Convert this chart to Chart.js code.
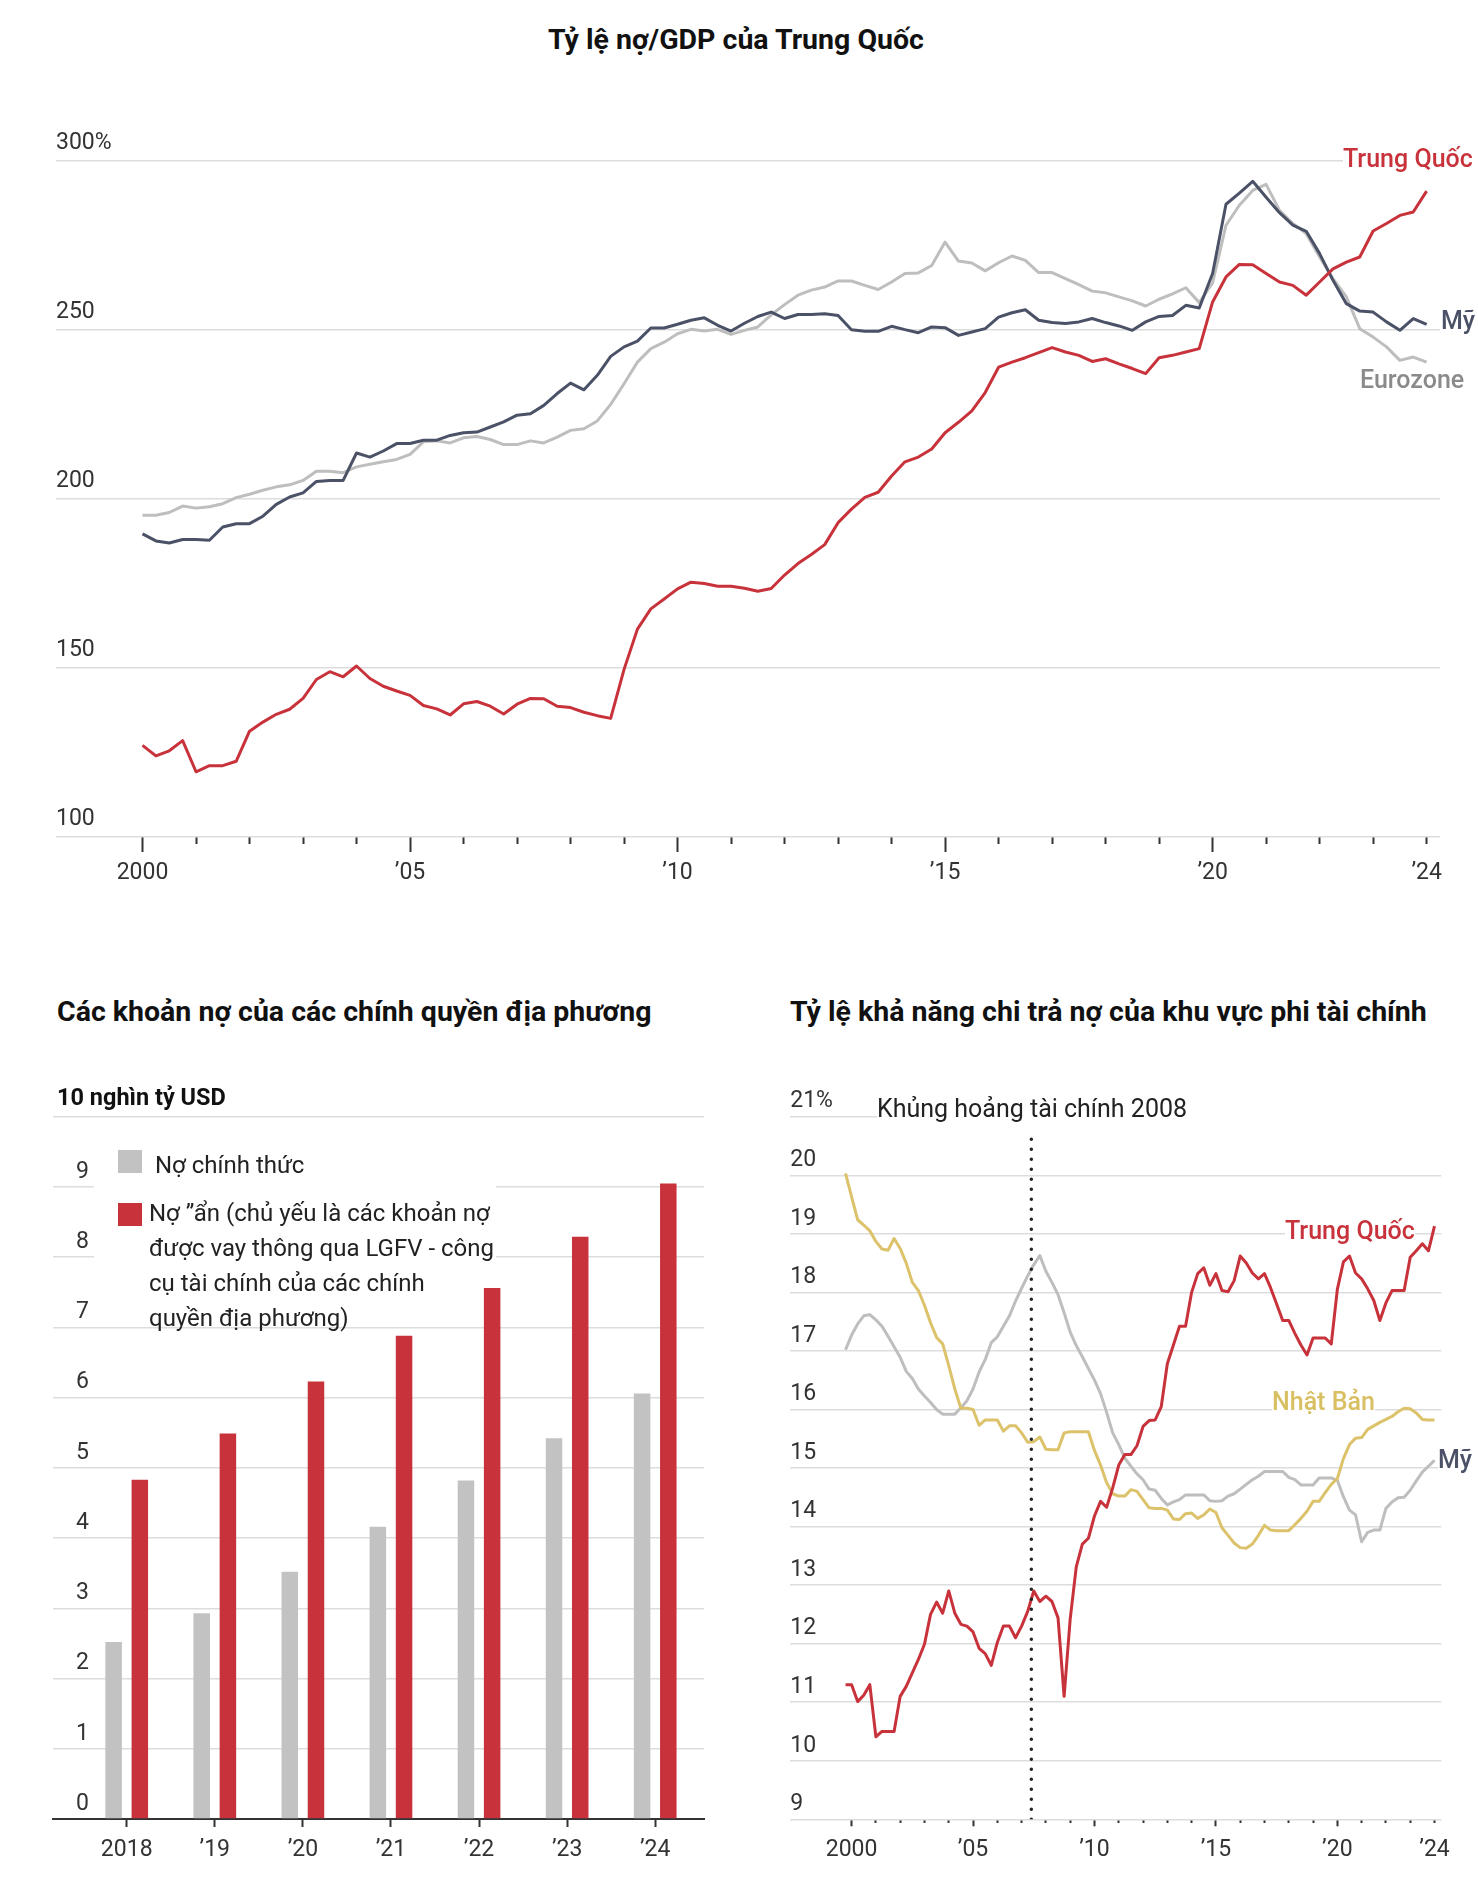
<!DOCTYPE html>
<html lang="vi">
<head>
<meta charset="utf-8">
<title>Tỷ lệ nợ/GDP của Trung Quốc</title>
<script src="https://cdn.jsdelivr.net/npm/chart.js@4.4.1/dist/chart.umd.min.js"></script>
<style>
  html, body { margin: 0; padding: 0; background: #fff; }
  body { width: 1478px; height: 1884px; position: relative; overflow: hidden; font-family: Roboto, "Noto Sans", sans-serif; color: #222; }
  canvas { position: absolute; }
  .t { position: absolute; white-space: nowrap; line-height: 1; }
  .title { font-weight: 700; font-size: 28.5px; color: #111; }
  .lbl { font-weight: 500; font-size: 25px; background: #fff; }
  .sw { position: absolute; width: 24px; height: 23px; }
</style>
</head>
<body>
<div class="t title" style="left:0;width:1472px;text-align:center;top:26px">Tỷ lệ nợ/GDP của Trung Quốc</div>
<canvas id="gdp" width="1478" height="797" style="left:0;top:100px"></canvas>
<div class="t lbl" style="left:1343px;top:146px;color:#c8323b">Trung Quốc</div>
<div class="t lbl" style="left:1441px;top:308px;color:#4b5166">Mỹ</div>
<div class="t lbl" style="left:1360px;top:367px;color:#8a8a8a">Eurozone</div>

<div class="t title" style="left:57px;top:998px">Các khoản nợ của các chính quyền địa phương</div>
<div class="t title" style="left:790px;top:998px">Tỷ lệ khả năng chi trả nợ của khu vực phi tài chính</div>

<canvas id="bars" width="740" height="824" style="left:0;top:1060px"></canvas>
<div class="t" style="left:57px;top:1086px;font-size:23.5px;font-weight:700;color:#111">10 nghìn tỷ USD</div>
<div style="position:absolute;left:94px;top:1140px;width:402px;height:128px;background:#fff"></div>
<div class="sw" style="left:118px;top:1150px;background:#c2c2c2"></div>
<div class="t" style="left:155px;top:1153px;font-size:24px">Nợ chính thức</div>
<div class="sw" style="left:118px;top:1203px;background:#c8323b"></div>
<div class="t" style="left:149px;top:1196px;font-size:24px;line-height:35px">Nợ ”ẩn (chủ yếu là các khoản nợ<br>được vay thông qua LGFV - công<br>cụ tài chính của các chính<br>quyền địa phương)</div>

<canvas id="dsc" width="738" height="824" style="left:740px;top:1060px"></canvas>
<div class="t" style="left:877px;top:1096px;width:568px;font-size:25px;background:#fff">Khủng hoảng tài chính 2008</div>
<div class="t lbl" style="left:1285px;top:1218px;color:#c8323b">Trung Quốc</div>
<div class="t lbl" style="left:1272px;top:1389px;color:#d8bf62">Nhật Bản</div>
<div class="t lbl" style="left:1438px;top:1447px;color:#4b5166">Mỹ</div>

<script>
// ---- data: debt / GDP, quarterly from 2000 Q1 ----
const gdpStart = 2000;
const gdpChina = [127.1,124,125.5,128.5,119.3,121.1,121.1,122.4,131.3,134,
  136.3,137.8,141,146.6,148.9,147.4,150.6,146.9,144.6,143.2,
  141.9,138.9,137.9,136.1,139.4,140.1,138.7,136.4,139.3,141,
  140.9,138.7,138.3,136.9,135.9,135.1,149.6,161.5,167.5,170.4,
  173.4,175.4,175,174.2,174.2,173.6,172.7,173.5,177.5,180.9,
  183.6,186.5,193,197,200.5,202,206.8,211,212.4,214.8,
  219.6,222.7,226.1,231.5,239,240.5,241.8,243.3,244.8,243.5,
  242.5,240.7,241.5,240,238.6,237.1,241.8,242.5,243.5,244.5,
  258.3,265.7,269.4,269.3,266.7,264.2,263.2,260.3,264.2,268.1,
  270.1,271.6,279.3,281.5,283.9,284.9,291.1];
const gdpUS = [189.7,187.6,187,188,188,187.8,191.7,192.7,192.7,194.9,
  198.4,200.6,201.8,205.2,205.5,205.5,213.6,212.4,214.2,216.4,
  216.4,217.4,217.4,218.8,219.6,219.8,221.3,222.8,224.8,225.2,
  227.7,231.2,234.3,232.3,236.6,242.2,245,246.7,250.6,250.6,
  251.7,252.9,253.6,251.4,249.7,252,254,255.3,253.4,254.6,
  254.6,254.8,254.3,250.1,249.6,249.6,251.1,250.1,249.2,250.9,
  250.7,248.4,249.4,250.4,253.8,255.1,256,252.9,252.2,251.9,
  252.4,253.4,252.2,251.2,249.9,252.4,254,254.3,257.3,256.5,
  266.7,287.2,290.5,294,289.3,284.7,281,279.2,272.6,264.7,
  257.8,255.6,255.3,252.4,249.9,253.4,251.7];
const gdpEuro = [195.2,195.2,196,197.9,197.3,197.7,198.6,200.4,201.4,202.6,
  203.6,204.2,205.5,208.2,208.2,207.8,209.5,210.3,211,211.7,
  213.2,216.9,217.2,216.6,218.1,218.5,217.6,216.1,216.1,217.2,
  216.6,218.3,220.3,220.8,223.1,228,234.1,240.5,244.5,246.4,
  248.9,250.2,249.7,250.2,248.7,249.9,250.9,254.5,257.5,260.3,
  261.8,262.7,264.5,264.5,263.2,262,264.2,266.7,266.9,269.1,
  276,270.4,269.8,267.5,269.9,271.9,270.6,267,267,265.2,
  263.4,261.5,261,259.8,258.6,257.1,259.1,260.7,262.5,258.1,
  263.9,281,286.9,291.3,293.1,285.4,281.5,278.5,271.6,265.2,
  259.8,250.4,247.9,245,241,242,240.5];
const yearTicks = [2000, 2005, 2010, 2015, 2020, 2024];
const yearTickLabels = ['2000', '’05', '’10', '’15', '’20', '’24'];

// ---- data: local government debt ----
const barYears = ['2018', '’19', '’20', '’21', '’22', '’23', '’24'];
const officialDebt = [2.52, 2.93, 3.52, 4.16, 4.82, 5.42, 6.06];
const hiddenDebt = [4.83, 5.49, 6.23, 6.88, 7.56, 8.29, 9.05];

// ---- data: debt service ratio, non-financial sector, quarterly from 1999 Q4 ----
const dscStart = 1999.75;
const dscChina = [11.3,11.3,11.01,11.12,11.3,10.41,10.5,10.5,10.5,11.1,
  11.27,11.5,11.73,11.99,12.5,12.71,12.52,12.9,12.52,12.33,
  12.3,12.2,11.92,11.83,11.63,12.02,12.3,12.3,12.1,12.3,
  12.55,12.9,12.72,12.81,12.72,12.44,11.1,12.42,13.31,13.7,
  13.8,14.18,14.43,14.33,14.66,15.05,15.23,15.23,15.38,15.71,
  15.81,15.82,16.05,16.78,17.1,17.42,17.42,18.0,18.32,18.42,
  18.12,18.32,18.03,18.01,18.2,18.62,18.5,18.33,18.23,18.32,
  18.08,17.8,17.52,17.52,17.3,17.1,16.93,17.22,17.22,17.22,
  17.12,18.05,18.52,18.62,18.33,18.23,18.06,17.86,17.52,17.82,
  18.03,18.03,18.03,18.6,18.71,18.83,18.71,19.13];
const dscJapan = [20.03,19.63,19.24,19.15,19.05,18.87,18.74,18.72,18.92,18.75,
  18.5,18.17,18.03,17.78,17.48,17.23,17.12,16.75,16.35,16.02,
  16.02,16.0,15.73,15.82,15.82,15.82,15.63,15.72,15.72,15.6,
  15.44,15.45,15.53,15.32,15.31,15.31,15.6,15.62,15.62,15.62,
  15.62,15.3,15.05,14.75,14.56,14.52,14.52,14.63,14.6,14.46,
  14.32,14.31,14.31,14.28,14.13,14.12,14.22,14.23,14.14,14.2,
  14.3,14.24,13.98,13.85,13.72,13.64,13.63,13.7,13.85,14.02,
  13.94,13.93,13.93,13.93,14.03,14.14,14.26,14.43,14.43,14.58,
  14.72,14.82,15.16,15.4,15.51,15.52,15.66,15.72,15.78,15.83,
  15.88,15.96,16.02,16.01,15.94,15.83,15.82,15.82];
const dscUS = [17.02,17.27,17.46,17.6,17.62,17.53,17.42,17.25,17.07,16.89,
  16.65,16.53,16.35,16.23,16.12,16.0,15.92,15.92,15.92,16.03,
  16.15,16.35,16.64,16.85,17.14,17.24,17.42,17.6,17.85,18.07,
  18.28,18.47,18.63,18.36,18.17,17.96,17.65,17.32,17.09,16.9,
  16.7,16.5,16.27,15.95,15.6,15.4,15.17,15.03,14.9,14.8,
  14.64,14.62,14.48,14.37,14.42,14.46,14.54,14.54,14.54,14.54,
  14.44,14.43,14.44,14.52,14.56,14.64,14.72,14.8,14.86,14.94,
  14.94,14.94,14.94,14.84,14.8,14.71,14.71,14.71,14.83,14.83,
  14.83,14.79,14.51,14.28,14.2,13.74,13.9,13.94,13.94,14.31,
  14.42,14.49,14.5,14.62,14.78,14.93,15.03,15.13];
const crisisYear = 2007.4;

const RED = '#c8323b', SLATE = '#4b5166', LIGHT = '#bebebe', GOLD = '#dcc26b';

// numbers use a narrow face when one is installed
function hasFont(name) {
  const c = document.createElement('canvas').getContext('2d');
  const s = 'mmmmmwwwiil 2000 9';
  c.font = '40px monospace';
  const a = c.measureText(s).width;
  c.font = "40px '" + name + "', monospace";
  return c.measureText(s).width !== a;
}
const narrow = hasFont('Liberation Sans Narrow');
const tickFont = narrow ? { family: "'Liberation Sans Narrow'", size: 26 } : { family: 'Roboto', size: 23 };
const tickLH = tickFont.size * 1.2;

Chart.defaults.font.family = 'Roboto';
Chart.defaults.color = '#333';
Chart.defaults.animation = false;

function quarterPoints(values, start) {
  return values.map((v, i) => ({ x: start + i * 0.25, y: v }));
}

function yearAxis(min, max, majorLen, minorLen, axisHeight, labelCenter) {
  return {
    type: 'linear', min, max,
    afterBuildTicks: s => { s.ticks = []; for (let y = 2000; y <= 2024; y++) s.ticks.push({ value: y }); },
    afterFit: s => { s.height = axisHeight; },
    ticks: {
      autoSkip: false, maxRotation: 0, font: tickFont, color: '#333',
      padding: labelCenter - majorLen - tickLH / 2,
      callback: v => { const k = yearTicks.indexOf(v); return k >= 0 ? yearTickLabels[k] : ''; }
    },
    grid: {
      drawOnChartArea: false, tickLength: majorLen, tickWidth: 2, tickColor: '#333',
      tickBorderDash: ctx => (ctx.tick && ctx.tick.value % 5 === 0) ? [] : [minorLen, 60]
    },
    border: { display: false }
  };
}

function valueAxis(min, max, step, labelFn, pad, offset) {
  return {
    type: 'linear', min, max,
    afterFit: s => { s.width = 0; },
    ticks: { stepSize: step, mirror: true, padding: pad, labelOffset: offset, font: tickFont, color: '#333', callback: labelFn },
    grid: { color: ctx => (ctx.tick && ctx.tick.value === 0) ? 'rgba(0,0,0,0)' : '#dddddd', lineWidth: 1.5, drawTicks: false },
    border: { display: false }
  };
}

const common = {
  responsive: false,
  animation: false,
  plugins: { legend: { display: false }, tooltip: { enabled: false } },
  elements: { point: { radius: 0 }, line: { borderWidth: 3, tension: 0, borderJoinStyle: 'round' } }
};

// Debt / GDP
new Chart(document.getElementById('gdp'), {
  type: 'line',
  data: {
    datasets: [
      { label: 'Trung Quốc', data: quarterPoints(gdpChina, gdpStart), borderColor: RED },
      { label: 'Mỹ', data: quarterPoints(gdpUS, gdpStart), borderColor: SLATE },
      { label: 'Eurozone', data: quarterPoints(gdpEuro, gdpStart), borderColor: LIGHT }
    ]
  },
  options: Object.assign({}, common, {
    layout: { padding: { left: 56, right: 38, top: 61, bottom: 0 } },
    scales: {
      x: yearAxis(1998.383, 2024.25, 15, 7, 60, 36.5),
      y: valueAxis(100, 300, 50, v => v === 300 ? '300%' : v, 0, -18)
    }
  })
});

// Local government debt
new Chart(document.getElementById('bars'), {
  type: 'bar',
  data: {
    datasets: [
      { label: 'Nợ chính thức', data: officialDebt.map((v, i) => ({ x: i, y: v })), backgroundColor: '#c2c2c2' },
      { label: 'Nợ ”ẩn', data: hiddenDebt.map((v, i) => ({ x: i, y: v })), backgroundColor: RED }
    ]
  },
  options: Object.assign({}, common, {
    layout: { padding: { left: 53, right: 36, top: 56.7, bottom: 0 } },
    datasets: { bar: { categoryPercentage: 0.595, barPercentage: 0.63, borderWidth: 0 } },
    scales: {
      x: {
        type: 'linear', min: -0.837, max: 6.554, offset: false,
        afterBuildTicks: s => { s.ticks = barYears.map((_, i) => ({ value: i })); },
        afterFit: s => { s.height = 65; },
        ticks: { autoSkip: false, maxRotation: 0, font: tickFont, color: '#333', padding: 31 - 8 - tickLH / 2,
          callback: v => barYears[v] },
        grid: { offset: false, drawOnChartArea: false, tickLength: 8, tickWidth: 2, tickColor: '#333' },
        border: { display: true, color: '#333', width: 2 }
      },
      y: valueAxis(0, 10, 1, v => v === 10 ? '' : v, 23, -15)
    }
  })
});

// Debt service ratio
new Chart(document.getElementById('dsc'), {
  type: 'line',
  data: {
    datasets: [
      { label: 'Khủng hoảng tài chính 2008', data: [{ x: crisisYear, y: 9 }, { x: crisisYear, y: 20.63 }],
        borderColor: '#222', borderWidth: 3.5, borderDash: [0, 10], borderCapStyle: 'round' },
      { label: 'Trung Quốc', data: quarterPoints(dscChina, dscStart), borderColor: RED },
      { label: 'Nhật Bản', data: quarterPoints(dscJapan, dscStart), borderColor: GOLD },
      { label: 'Mỹ', data: quarterPoints(dscUS, dscStart), borderColor: LIGHT }
    ]
  },
  options: Object.assign({}, common, {
    layout: { padding: { left: 50.2, right: 36.7, top: 56.7, bottom: 0 } },
    scales: {
      x: yearAxis(1997.472, 2024.28, 7, 4, 64.7, 30.7),
      y: valueAxis(9, 21, 1, v => v === 21 ? '21%' : v, 0, -15)
    }
  })
});
</script>
</body>
</html>
